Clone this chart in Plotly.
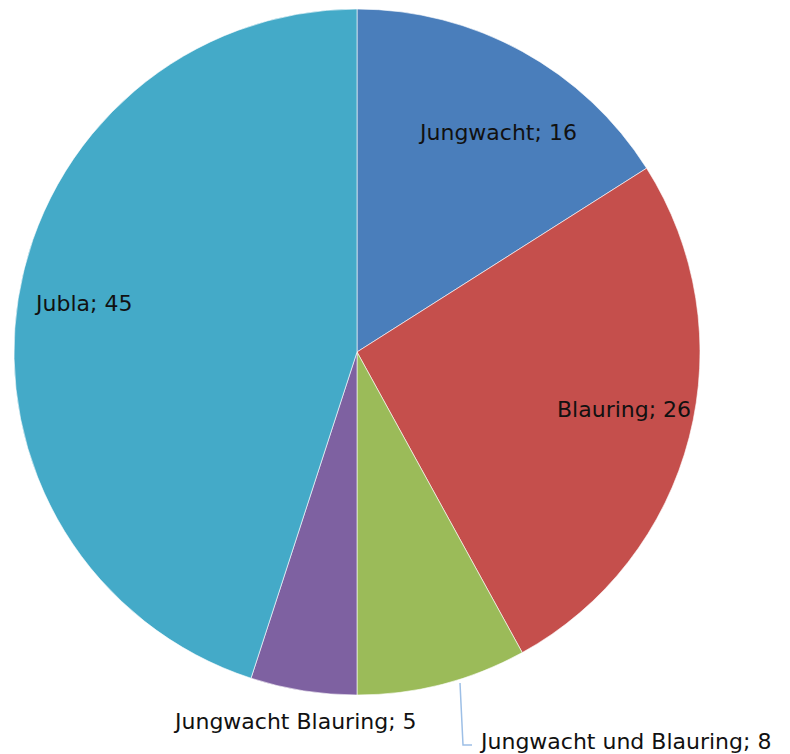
import plotly.graph_objects as go

W, H = 790, 754

categories = ["Jungwacht", "Blauring", "Jungwacht und Blauring", "Jungwacht Blauring", "Jubla"]
values = [16, 26, 8, 5, 45]
colors = ["#4a7ebb", "#c54f4c", "#9bbb59", "#7e61a1", "#44aac8"]

# label anchor positions in pixels (x center, y center), anchor
label_pos = [(497, 132, "center"), (624, 409, "center"), (477, 741, "left"), (295, 721, "center"), (83, 303, "center")]

fig = go.Figure(go.Pie(
    labels=categories,
    values=values,
    sort=False,
    direction="clockwise",
    rotation=0,
    marker=dict(colors=colors, line=dict(color="rgba(255,255,255,0.6)", width=1)),
    textinfo="none",
    hoverinfo="label+value",
    domain=dict(x=[14 / W, 700 / W], y=[1 - 695 / H, 1 - 9 / H]),
    showlegend=False,
))

annotations = []
for cat, val, (px, py, anc) in zip(categories, values, label_pos):
    annotations.append(dict(
        x=px / W, y=1 - py / H, xref="paper", yref="paper",
        text=f"{cat}; {val}", showarrow=False, xanchor=anc, yanchor="middle",
        font=dict(family="DejaVu Sans, sans-serif", size=22, color="#111111"),
    ))

fig.add_shape(type="path", xref="paper", yref="paper",
              path=f"M {460 / W},{1 - 683 / H} L {463 / W},{1 - 745 / H} L {472 / W},{1 - 745 / H}",
              line=dict(color="#9dbfe6", width=1.5))

fig.update_layout(
    width=W, height=H,
    margin=dict(l=0, r=0, t=0, b=0),
    paper_bgcolor="white",
    annotations=annotations,
)

fig.write_html("out.html", config={"displayModeBar": False},
               post_script="document.body.style.margin='0';document.body.style.overflow='hidden';")
